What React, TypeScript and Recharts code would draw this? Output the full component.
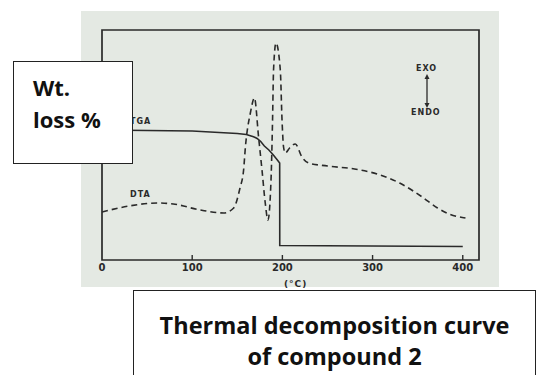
import { LineChart, Line, XAxis, YAxis, ReferenceArea, ReferenceLine } from "recharts";

// axis
const tempTicks = [0, 100, 200, 300, 400];
const innerTicks = [100, 200, 300, 400];

// TGA trace (temperature °C, height above baseline)
const tgaTemp = [0, 50, 100, 150, 160, 168, 172, 176, 180, 185, 190, 194, 197, 197.1, 400];
const tgaValue = [130, 129.5, 129, 126.5, 125.5, 123.3, 121.5, 118.5, 114, 110, 105, 100.5, 97, 14.5, 13.5];

// DTA trace
const dtaTemp = [
  0, 30, 61, 79, 109, 135, 146, 153, 157, 159, 164.5, 169, 173.6, 177.4, 181, 184, 187.4, 189.1,
  190.2, 192.9, 197.7, 199.6, 201.3, 203.2, 208, 214.3, 221.7, 229, 250, 280, 305, 330, 355, 372,
  385, 403,
];
const dtaValue = [
  48, 54, 57, 56, 50, 47, 52, 72, 90, 113, 147, 162, 123, 90, 57, 40, 80, 140, 190, 217, 190, 140,
  113, 107, 112, 116, 103, 97, 94, 91, 86, 77, 63, 52, 46, 42,
];

const INK = "#2a2a2a";

const styles: Record<string, React.CSSProperties> = {
  page: {
    position: "absolute",
    left: 0,
    top: 0,
    width: 536,
    height: 375,
    background: "#fff",
    overflow: "hidden",
  },
  photo: {
    position: "absolute",
    left: 81,
    top: 11,
    width: 418,
    height: 276,
    background: "#e4e9e3",
  },
  small: {
    position: "absolute",
    fontFamily: "'DejaVu Sans', sans-serif",
    fontWeight: 700,
    fontSize: 8,
    letterSpacing: 1,
    color: INK,
    lineHeight: "10px",
    whiteSpace: "nowrap",
  },
  wtBox: {
    position: "absolute",
    left: 13,
    top: 61,
    width: 120,
    height: 103,
    boxSizing: "border-box",
    border: "1.5px solid #222",
    background: "#fff",
    padding: "9px 0 0 19px",
    fontFamily: "'Open Sans', sans-serif",
    fontWeight: 700,
    fontSize: 22,
    lineHeight: "32px",
    color: "#111",
  },
  titleBox: {
    position: "absolute",
    left: 133,
    top: 290,
    width: 403,
    height: 100,
    boxSizing: "border-box",
    border: "1.5px solid #222",
    background: "#fff",
    paddingTop: 19,
    textAlign: "center",
    fontFamily: "'Open Sans', sans-serif",
    fontWeight: 700,
    fontSize: 23.5,
    lineHeight: "31px",
    color: "#111",
  },
};

export default function App() {
  const tgaData = tgaTemp.map((t, i) => ({ t, v: tgaValue[i] }));
  const dtaData = dtaTemp.map((t, i) => ({ t, v: dtaValue[i] }));

  return (
    <div style={styles.page}>
      <div style={styles.photo} />
      <LineChart
        width={536}
        height={375}
        margin={{ top: 30, right: 57, bottom: 95, left: 102 }}
        style={{ position: "absolute", left: 0, top: 0 }}
      >
        <XAxis
          dataKey="t"
          type="number"
          domain={[0, 418]}
          ticks={tempTicks}
          allowDataOverflow
          axisLine={false}
          tickLine={false}
          tickSize={0}
          tickMargin={4}
          height={20}
          tick={{ fontSize: 10, fontWeight: 700, fill: INK, fontFamily: "'DejaVu Sans', sans-serif" }}
        />
        <YAxis type="number" domain={[0, 230]} hide allowDataOverflow />
        <ReferenceArea
          x1={0}
          x2={418}
          y1={0}
          y2={230}
          fill="none"
          fillOpacity={0}
          stroke={INK}
          strokeWidth={1.7}
          ifOverflow="visible"
        />
        {innerTicks.map((t) => (
          <ReferenceLine
            key={t}
            segment={[
              { x: t, y: 0 },
              { x: t, y: 5 },
            ]}
            stroke={INK}
            strokeWidth={1.4}
          />
        ))}
        <Line
          data={tgaData}
          dataKey="v"
          type="linear"
          stroke={INK}
          strokeWidth={1.6}
          dot={false}
          isAnimationActive={false}
        />
        <Line
          data={dtaData}
          dataKey="v"
          type="monotone"
          stroke={INK}
          strokeWidth={1.6}
          strokeDasharray="6 4"
          dot={false}
          isAnimationActive={false}
        />
      </LineChart>

      <div style={{ ...styles.small, left: 130, top: 117 }}>TGA</div>
      <div style={{ ...styles.small, left: 130, top: 190 }}>DTA</div>
      <div style={{ ...styles.small, left: 416, top: 64 }}>EXO</div>
      <div style={{ ...styles.small, left: 411, top: 108 }}>ENDO</div>
      <div style={{ ...styles.small, left: 284, top: 279, fontSize: 9 }}>(°C)</div>
      <svg width={10} height={36} style={{ position: "absolute", left: 422, top: 73 }}>
        <line x1={5} y1={3} x2={5} y2={33} stroke={INK} strokeWidth={1.3} />
        <path d="M2.5 6 L5 1 L7.5 6 Z" fill={INK} />
        <path d="M2.5 30 L5 35 L7.5 30 Z" fill={INK} />
      </svg>

      <div style={styles.wtBox}>
        Wt.
        <br />
        loss %
      </div>
      <div style={styles.titleBox}>
        Thermal decomposition curve
        <br />
        of compound 2
      </div>
    </div>
  );
}
